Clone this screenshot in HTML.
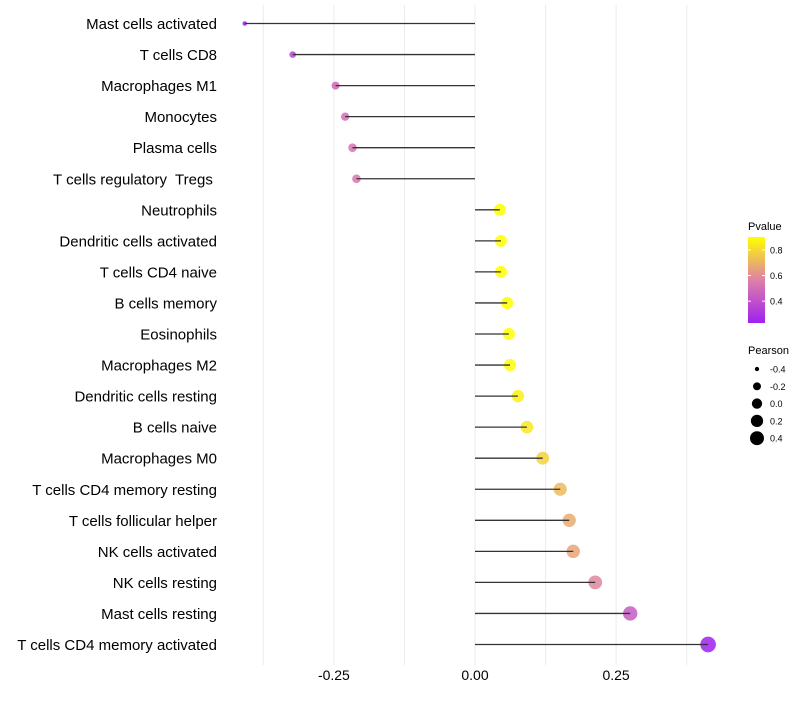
<!DOCTYPE html>
<html><head><meta charset="utf-8"><style>
body{margin:0;background:#fff;font-family:"Liberation Sans",sans-serif}
svg text{font-family:"Liberation Sans",sans-serif;white-space:pre}
</style></head><body>
<svg id="chart" width="800" height="700" xmlns="http://www.w3.org/2000/svg">
<defs><linearGradient id="pg" x1="0" y1="1" x2="0" y2="0">
<stop offset="0" stop-color="#a020f0"/><stop offset="0.5" stop-color="#de80a8"/><stop offset="1" stop-color="#ffff00"/></linearGradient></defs>
<g id="grid"></g>
<g id="marks"></g>
<g id="ylab"></g>
<g id="xlab"></g>
<g>
<text x="748" y="230" font-size="11" fill="#000">Pvalue</text>
<rect x="748" y="237" width="17" height="86" fill="url(#pg)"/>
<g id="cbticks"></g>
</g>
<g id="sizeleg">
<text x="748" y="354" font-size="11" fill="#000">Pearson</text>
</g>
</svg>
<script>
const categories=["Mast cells activated","T cells CD8","Macrophages M1","Monocytes","Plasma cells","T cells regulatory  Tregs ","Neutrophils","Dendritic cells activated","T cells CD4 naive","B cells memory","Eosinophils","Macrophages M2","Dendritic cells resting","B cells naive","Macrophages M0","T cells CD4 memory resting","T cells follicular helper","NK cells activated","NK cells resting","Mast cells resting","T cells CD4 memory activated"];
const pearson=[-0.408,-0.323,-0.247,-0.230,-0.217,-0.210,0.044,0.046,0.046,0.057,0.060,0.062,0.076,0.092,0.120,0.151,0.167,0.174,0.213,0.275,0.413];
const pvalue=[0.23,0.36,0.47,0.50,0.52,0.53,0.90,0.90,0.90,0.90,0.90,0.89,0.86,0.84,0.78,0.72,0.68,0.66,0.58,0.44,0.23];
const xTicks=[-0.25,0,0.25];
const xTickLabels=["-0.25","0.00","0.25"];
const gridVals=[-0.375,-0.25,-0.125,0,0.125,0.25,0.375];
const cbTicks=[0.4,0.6,0.8];
const sizeLegend=[-0.4,-0.2,0.0,0.2,0.4];
const sizeLegendLabels=["-0.4","-0.2","0.0","0.2","0.4"];
const NS="http://www.w3.org/2000/svg";
const x=v=>475+v*564.4;
const y=i=>23.5+i*31.05;
const rOf=v=>Math.sqrt(Math.max(4,33+68*v));
const pMin=0.23,pMax=0.90;
function col(p){let t=Math.min(1,Math.max(0,(p-pMin)/(pMax-pMin)));
const s=[[160,32,240],[222,128,168],[255,255,0]];let a,b,u;
if(t<0.5){a=s[0];b=s[1];u=t/0.5}else{a=s[1];b=s[2];u=(t-0.5)/0.5}
return `rgb(${a.map((c,k)=>Math.round(c+(b[k]-c)*u)).join(',')})`;}
function mk(tag,at,par){const e=document.createElementNS(NS,tag);for(const k in at)e.setAttribute(k,at[k]);par.appendChild(e);return e;}
const G=document.getElementById('grid'),M=document.getElementById('marks'),YL=document.getElementById('ylab'),XL=document.getElementById('xlab');
gridVals.forEach(v=>{const l=mk('line',{x1:x(v),x2:x(v),y1:5,y2:665,stroke:'#ebebeb','stroke-width':1},G);

});
categories.forEach((c,i)=>{
const t=mk('text',{x:217,y:y(i)+5.5,'text-anchor':'end','font-size':15,fill:'#000'},YL);t.textContent=c;


const pt=mk('circle',{cx:x(pearson[i]),cy:y(i),r:rOf(pearson[i]),fill:col(pvalue[i]),'fill-opacity':0.85},M);


const ln=mk('line',{x1:x(0),x2:x(pearson[i]),y1:y(i),y2:y(i),stroke:'#333','stroke-width':1.3},M);


});
xTicks.forEach((v,i)=>{const t=mk('text',{x:x(v),y:680,'text-anchor':'middle','font-size':14,fill:'#000'},XL);t.textContent=xTickLabels[i];

});
const CB=document.getElementById('cbticks');
cbTicks.forEach(v=>{const yy=323-(v-pMin)/(pMax-pMin)*86;
mk('line',{x1:748,x2:751,y1:yy,y2:yy,stroke:'#fff'},CB);mk('line',{x1:762,x2:765,y1:yy,y2:yy,stroke:'#fff'},CB);
const t=mk('text',{x:770,y:yy+3.5,'font-size':9,fill:'#000'},CB);t.textContent=v.toFixed(1);

});
const SL=document.getElementById('sizeleg');
sizeLegend.forEach((v,i)=>{const yy=369+i*17.3;
const c=mk('circle',{cx:757,cy:yy,r:rOf(v)*0.9,fill:'#000'},SL);


const t=mk('text',{x:770,y:yy+3.5,'font-size':9,fill:'#000'},SL);t.textContent=sizeLegendLabels[i];

});
</script>
</body></html>
